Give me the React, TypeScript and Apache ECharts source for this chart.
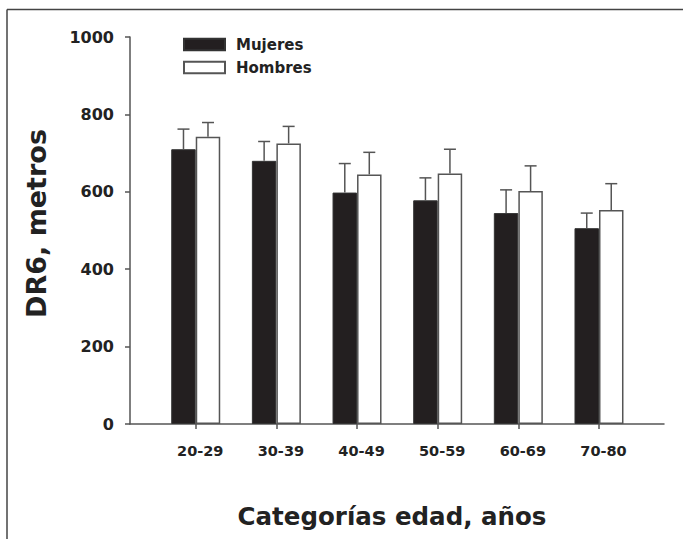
import React, { useEffect, useRef } from "react";
import * as echarts from "echarts";

const categories = ["20-29", "30-39", "40-49", "50-59", "60-69", "70-80"];
const mujeres = [710, 680, 598, 578, 545, 506];
const mujeresSD = [52, 50, 75, 58, 60, 39];
const hombres = [742, 725, 645, 647, 602, 553];
const hombresSD = [37, 44, 57, 63, 65, 68];
const seriesNames = ["Mujeres", "Hombres"];
const yTitle = "DR6, metros";
const xTitle = "Categorías edad, años";

const FONT = "DejaVu Sans";
const TXT = "#222";
const LINE = "#555";
const BAR_W = 24.5;

function errorSeries(name: string, vals: number[], sds: number[], off: number) {
  return {
    type: "custom",
    name,
    z: 5,
    encode: { x: 0, y: 1 },
    data: vals.map((v, i) => [i, v, sds[i]]),
    renderItem: (params: any, api: any) => {
      const x = api.value(0);
      const v = api.value(1);
      const sd = api.value(2);
      const base = api.coord([x, v]);
      const top = api.coord([x, v + sd]);
      const cx = base[0] + off;
      const st = { stroke: LINE, lineWidth: 1.5, fill: null };
      return {
        type: "group",
        children: [
          { type: "line", shape: { x1: cx, y1: base[1], x2: cx, y2: top[1] }, style: st },
          { type: "line", shape: { x1: cx - 6, y1: top[1], x2: cx + 6, y2: top[1] }, style: st },
        ],
      };
    },
  };
}

export default function App() {
  const ref = useRef<HTMLDivElement>(null);
  useEffect(() => {
    const chart = echarts.init(ref.current!, null, { renderer: "svg" });
    chart.setOption({
      animation: false,
      backgroundColor: "#fff",
      grid: { left: 130, right: 19, top: 37, bottom: 115 },
      legend: {
        data: seriesNames,
        orient: "vertical",
        left: 183,
        top: 37,
        padding: 0,
        icon: "rect",
        itemWidth: 41,
        itemHeight: 11.5,
        itemGap: 8,
        selectedMode: false,
        textStyle: { fontFamily: FONT, fontWeight: "bold", fontSize: 15, color: TXT, padding: [0, 0, 0, 6] },
      },
      xAxis: {
        type: "value",
        min: -0.815,
        max: 5.806,
        name: xTitle,
        nameLocation: "middle",
        nameGap: 80,
        nameTextStyle: { fontFamily: FONT, fontWeight: "bold", fontSize: 24.5, color: TXT, padding: [0, 10, 0, 0] },
        axisLine: { show: true, onZero: false, lineStyle: { color: LINE, width: 1.5 } },
        axisTick: { show: true, length: 5, customValues: [0, 1, 2, 3, 4, 5], lineStyle: { color: LINE, width: 1.5 } },
        axisLabel: {
          customValues: [0, 1, 2, 3, 4, 5],
          formatter: (v: number) => categories[Math.round(v)] ?? "",
          fontFamily: FONT,
          fontWeight: "bold",
          fontSize: 14.5,
          color: TXT,
          margin: 19,
          padding: [0, 0, 0, 9],
        },
        splitLine: { show: false },
      },
      yAxis: {
        type: "value",
        min: 0,
        max: 1000,
        interval: 200,
        name: yTitle,
        nameLocation: "middle",
        nameGap: 80,
        nameTextStyle: { fontFamily: FONT, fontWeight: "bold", fontSize: 27, color: TXT, padding: [0, 0, 0, 14] },
        axisLine: { show: true, onZero: false, lineStyle: { color: LINE, width: 1.5 } },
        axisTick: { show: true, length: 5, lineStyle: { color: LINE, width: 1.5 } },
        axisLabel: {
          formatter: (v: number) => String(v),
          fontFamily: FONT,
          fontWeight: "bold",
          fontSize: 16,
          color: TXT,
          margin: 16,
        },
        splitLine: { show: false },
      },
      graphic: [
        { type: "line", shape: { x1: 7, y1: 9.5, x2: 683, y2: 9.5 }, style: { stroke: "#444", lineWidth: 1.5 } },
        { type: "line", shape: { x1: 7, y1: 9.5, x2: 7, y2: 539 }, style: { stroke: "#444", lineWidth: 1.5 } },
      ],
      series: [
        {
          type: "bar",
          name: seriesNames[0],
          data: mujeres.map((v, i) => [i, v]),
          barWidth: BAR_W,
          barGap: "0%",
          itemStyle: { color: "#231f20", borderColor: "#333", borderWidth: 1 },
        },
        {
          type: "bar",
          name: seriesNames[1],
          data: hombres.map((v, i) => [i, v]),
          barWidth: BAR_W,
          barGap: "0%",
          itemStyle: { color: "#ffffff", borderColor: LINE, borderWidth: 1.5 },
        },
        errorSeries("Mujeres DE", mujeres, mujeresSD, -BAR_W / 2),
        errorSeries("Hombres DE", hombres, hombresSD, BAR_W / 2),
      ],
    });
    return () => chart.dispose();
  }, []);
  return (
    <div
      ref={ref}
      style={{ position: "absolute", left: 0, top: 0, width: 683, height: 539 }}
    />
  );
}
